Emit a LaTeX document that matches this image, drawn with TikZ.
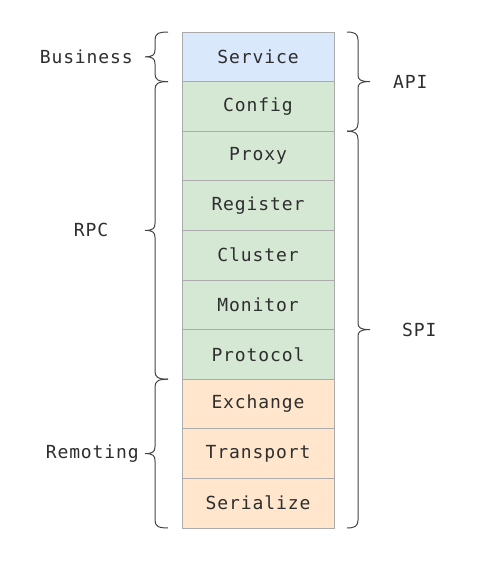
\documentclass[tikz,border=0pt]{standalone}
\usepackage{fontspec}
\newfontfamily\monof[LetterSpace=5]{DejaVu Sans Mono}
\definecolor{txt}{HTML}{2E2E2E}
\definecolor{bord}{HTML}{ABABAB}
\definecolor{bluef}{HTML}{DAE8FC}
\definecolor{greenf}{HTML}{D5E8D4}
\definecolor{orangef}{HTML}{FFE6CC}
\definecolor{bracec}{HTML}{444444}
\begin{document}
\begin{tikzpicture}[x=1pt,y=-1pt,
  layer/.style={draw=bord,line width=0.8pt,minimum width=152pt,minimum height=49.6pt,inner sep=0pt,text=txt,font=\monof\fontsize{18}{21}\selectfont},
  lbl/.style={text=txt,inner sep=0pt,font=\monof\fontsize{18}{21}\selectfont},
  brc/.style={draw=bracec,line width=1pt}]
\useasboundingbox (0,0) rectangle (478,568);
\node[layer,fill=bluef]   (service)   at (258,56.8)  {Service};
\node[layer,fill=greenf]  (config)    at (258,106.4) {Config};
\node[layer,fill=greenf]  (proxy)     at (258,156.0) {Proxy};
\node[layer,fill=greenf]  (register)  at (258,205.6) {Register};
\node[layer,fill=greenf]  (cluster)   at (258,255.2) {Cluster};
\node[layer,fill=greenf]  (monitor)   at (258,304.8) {Monitor};
\node[layer,fill=greenf]  (protocol)  at (258,354.4) {Protocol};
\node[layer,fill=orangef] (exchange)  at (258,404.0) {Exchange};
\node[layer,fill=orangef] (transport) at (258,453.6) {Transport};
\node[layer,fill=orangef] (serialize) at (258,503.2) {Serialize};
% left braces
\foreach \yt/\yb in {32/81.6, 81.6/379.2, 379.2/528}{
  \pgfmathsetmacro\ym{(\yt+\yb)/2}
  \draw[brc] (168,\yt) .. controls (158,\yt) and (155,\yt+2) .. (155,\yt+8) -- (155,\ym-7)
    .. controls (155,\ym-2) and (153,\ym) .. (145,\ym)
    .. controls (153,\ym) and (155,\ym+2) .. (155,\ym+7) -- (155,\yb-8)
    .. controls (155,\yb-2) and (158,\yb) .. (168,\yb);
}
% right braces
\foreach \yt/\yb in {32/131.2, 131.2/528}{
  \pgfmathsetmacro\ym{(\yt+\yb)/2}
  \draw[brc] (347,\yt) .. controls (355,\yt) and (358,\yt+2) .. (358,\yt+8) -- (358,\ym-7)
    .. controls (358,\ym-2) and (360,\ym) .. (370,\ym)
    .. controls (360,\ym) and (358,\ym+2) .. (358,\ym+7) -- (358,\yb-8)
    .. controls (358,\yb-2) and (355,\yb) .. (347,\yb);
}
\node[lbl,anchor=east] (business) at (133,56.8) {Business};
\node[lbl] (rpc) at (91,230.4) {RPC};
\node[lbl,anchor=east] (remoting) at (139,453.6) {Remoting};
\node[lbl,anchor=west] (api) at (393,81.6) {API};
\node[lbl,anchor=west] (spi) at (402,329.6) {SPI};
\end{tikzpicture}
\end{document}
